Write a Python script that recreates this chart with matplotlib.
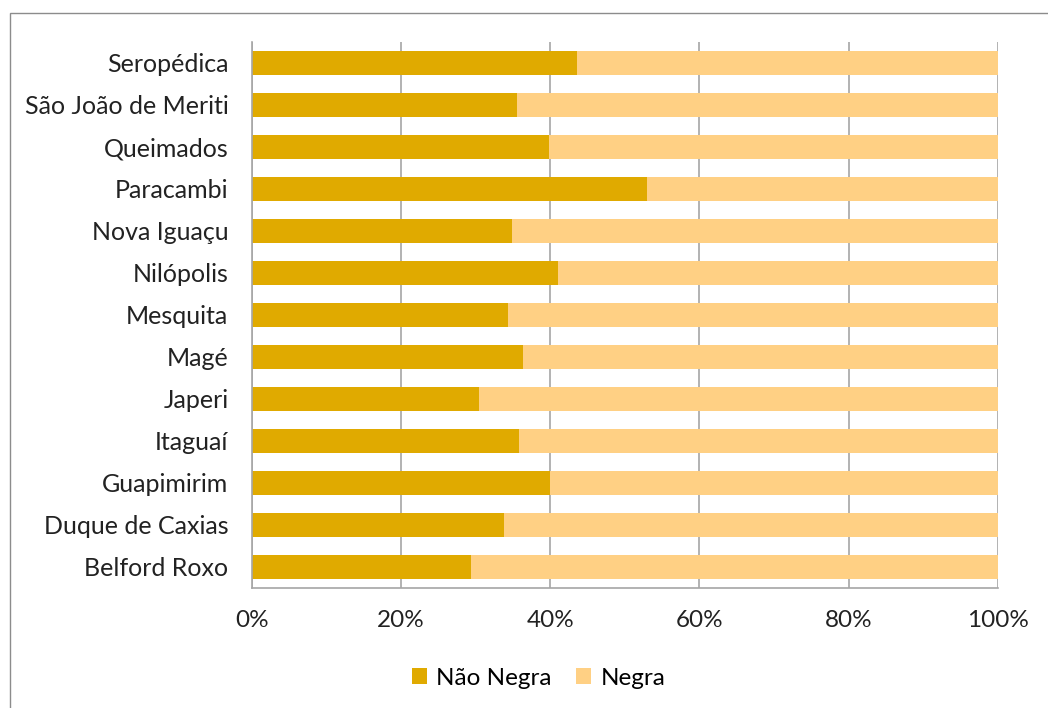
import matplotlib
matplotlib.use("Agg")
import matplotlib.pyplot as plt
from matplotlib.patches import Rectangle
from matplotlib.ticker import PercentFormatter

plt.rcParams["font.family"] = ["Lato", "DejaVu Sans"]

# municipalities, bottom to top
municipios = [
    "Belford Roxo", "Duque de Caxias", "Guapimirim", "Itaguaí", "Japeri",
    "Magé", "Mesquita", "Nilópolis", "Nova Iguaçu", "Paracambi",
    "Queimados", "São João de Meriti", "Seropédica",
]
nao_negra = [29.3, 33.8, 40.0, 35.8, 30.5, 36.3, 34.3, 41.0, 34.8, 53.0, 39.8, 35.5, 43.6]
negra = [100 - v for v in nao_negra]

cor_nao_negra = "#E0AA00"
cor_negra = "#FFD084"

fig = plt.figure(figsize=(10.48, 7.08), dpi=100)
ax = fig.add_axes([0.2405, 0.1695, 0.7115, 0.7712])

y = range(len(municipios))
ax.barh(y, nao_negra, height=0.58, color=cor_nao_negra, label="Não Negra", zorder=2)
ax.barh(y, negra, left=nao_negra, height=0.58, color=cor_negra, label="Negra", zorder=2)

ax.set_xlim(0, 100)
ax.set_ylim(-0.5, len(municipios) - 0.5)
ax.set_xticks([0, 20, 40, 60, 80, 100])
ax.xaxis.set_major_formatter(PercentFormatter(decimals=0))
ax.set_yticks(list(y))
ax.set_yticklabels(municipios)
ax.tick_params(axis="both", colors="#222222", length=0)
ax.tick_params(axis="x", labelsize=17.5, pad=16)
ax.tick_params(axis="y", labelsize=18, pad=17)

ax.grid(axis="x", color="#A6A6A6", linewidth=1.2, zorder=0)
for s in ["top", "right"]:
    ax.spines[s].set_visible(False)
for s in ["left", "bottom"]:
    ax.spines[s].set_color("#A6A6A6")
    ax.spines[s].set_linewidth(1.2)

fig.legend(loc="center", bbox_to_anchor=(0.514, 0.042), ncol=2, frameon=False,
           fontsize=17.5, handlelength=0.6, handleheight=0.6, handletextpad=0.4,
           columnspacing=1.0)

# chart frame (only top and left edges fall inside the image)
fig.patches.append(Rectangle((10 / 1048, -20 / 708), 1100 / 1048, 715 / 708,
                             transform=fig.transFigure, fill=False,
                             edgecolor="#8C8C8C", linewidth=1.0))

fig.savefig("out.png", dpi=100)
